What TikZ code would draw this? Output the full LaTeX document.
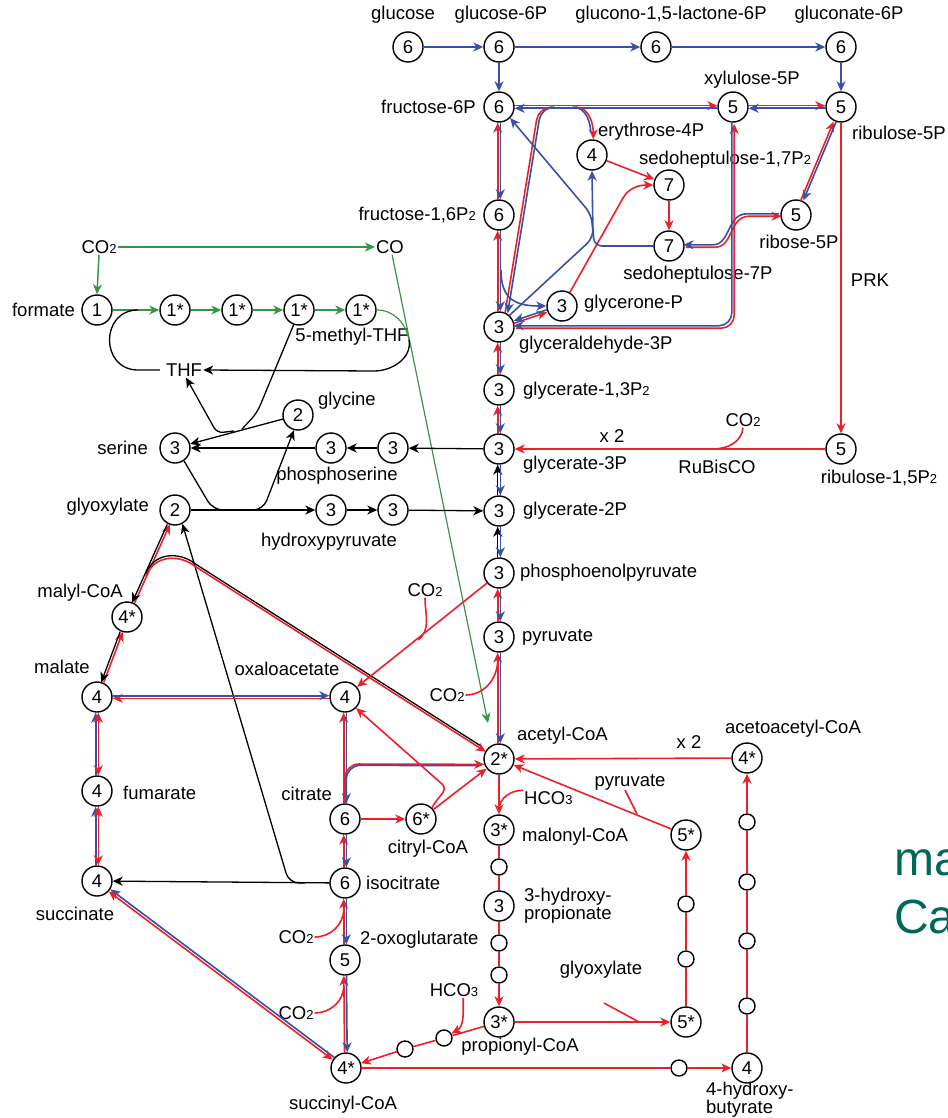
\documentclass[tikz,border=0pt]{standalone}
\usepackage{fontspec}
\setmainfont{Liberation Sans}
\usetikzlibrary{arrows.meta,positioning}
\definecolor{myred}{RGB}{236,32,40}
\definecolor{myblue}{RGB}{56,80,166}
\definecolor{mygreen}{RGB}{54,150,70}
\definecolor{myteal}{RGB}{0,104,88}
\newcommand{\sbs}[1]{{\fontsize{13}{13}\selectfont #1}}
\tikzset{
  met/.style={circle,draw,line width=1.4pt,minimum size=30pt,inner sep=0pt,fill=white,font=\fontsize{18.5}{18.5}\selectfont},
  sdot/.style={circle,draw,line width=1.4pt,minimum size=16pt,inner sep=0pt,fill=white},
  lab/.style={font=\fontsize{18.5}{19}\selectfont,inner sep=1pt},
  arr/.style={-{Stealth[length=10pt,width=9pt,inset=3pt]}},
  arr2/.style={{Stealth[length=10pt,width=9pt,inset=3pt]}-{Stealth[length=10pt,width=9pt,inset=3pt]}},
  rd/.style={draw=myred,line width=1.6pt},
  bl/.style={draw=myblue,line width=1.6pt},
  gr/.style={draw=mygreen,line width=1.5pt},
  bk/.style={draw=black,line width=1.3pt},
  lft/.style={transform canvas={xshift=-1.3pt}},
  rgt/.style={transform canvas={xshift=1.3pt}},
  upp/.style={transform canvas={yshift=1.3pt}},
  dwn/.style={transform canvas={yshift=-1.3pt}},
  ul/.style={transform canvas={shift={(-1.2pt,1.2pt)}}},
  dr/.style={transform canvas={shift={(1.2pt,-1.2pt)}}},
  offA/.style={transform canvas={shift={(0.8pt,1.1pt)}}},
  offB/.style={transform canvas={shift={(-0.8pt,-1.1pt)}}},
}
\begin{document}
\begin{tikzpicture}[x=1pt,y=-1pt]
\useasboundingbox (0,0) rectangle (947,1118);
% top row
\node[met] (glc) at (408,47) {6};
\node[met] (g6p) at (499,47) {6};
\node[met] (gl6p) at (656,47) {6};
\node[met] (gn6p) at (841,47) {6};
% pentose phosphates
\node[met] (f6p) at (499,107) {6};
\node[met] (x5p) at (733,107) {5};
\node[met] (ru5p) at (841,107) {5};
\node[met] (e4p) at (592,155) {4};
\node[met] (s17) at (669,185) {7};
\node[met] (fbp) at (499,215) {6};
\node[met] (r5p) at (796,215) {5};
\node[met] (s7p) at (669,246) {7};
\node[met] (dhap) at (562,306) {3};
\node[met] (gap) at (499,327) {3};
% trunk
\node[met] (bpg) at (499,390) {3};
\node[met] (pga) at (499,449) {3};
\node[met] (rubp) at (841,449) {5};
\node[met] (pg2) at (499,511) {3};
\node[met] (pep) at (499,573) {3};
\node[met] (pyr) at (499,637) {3};
\node[met] (acoa) at (499,759) {2*};
% 3-hydroxypropionate / 4-hydroxybutyrate
\node[met] (aac) at (747,758) {4*};
\node[met] (mcoa) at (499,830) {3*};
\node[met] (f5a) at (686,835) {5*};
\node[sdot] (d1) at (499,867) {};
\node[met] (hp3) at (499,906) {3};
\node[sdot] (d2) at (499,943) {};
\node[sdot] (d3) at (499,975) {};
\node[met] (pcoa) at (499,1022) {3*};
\node[met] (f5b) at (686,1022) {5*};
\node[sdot] (d4) at (686,904) {};
\node[sdot] (d5) at (686,959) {};
\node[sdot] (d6) at (444,1038) {};
\node[sdot] (d7) at (405,1049) {};
\node[sdot] (d8) at (679,1068) {};
\node[met] (scoa) at (346,1068) {4*};
\node[met] (hb4) at (747,1068) {4};
\node[sdot] (e1) at (747,1006) {};
\node[sdot] (e2) at (747,941) {};
\node[sdot] (e3) at (747,882) {};
\node[sdot] (e4) at (747,822) {};
% citrate cycle
\node[met] (oaa) at (345,697) {4};
\node[met] (cit) at (345,819) {6};
\node[met] (cyl) at (421,819) {6*};
\node[met] (icit) at (345,883) {6};
\node[met] (akg) at (345,960) {5};
\node[met] (mal) at (97,697) {4};
\node[met] (fum) at (97,791) {4};
\node[met] (suc) at (97,881) {4};
\node[met] (mlc) at (127,617) {4*};
% serine cycle
\node[met] (gox) at (175,510) {2};
\node[met] (ser) at (175,448) {3};
\node[met] (gly) at (298,415) {2};
\node[met] (ps1) at (331,448) {3};
\node[met] (ps2) at (393,448) {3};
\node[met] (hp1) at (331,510) {3};
\node[met] (hp2) at (393,510) {3};
% Wood-Ljungdahl
\node[met] (frm) at (97,310) {1};
\node[met] (m1) at (175,310) {1*};
\node[met] (m2) at (237,310) {1*};
\node[met] (m3) at (299,310) {1*};
\node[met] (m4) at (361,310) {1*};

% labels
\node[lab] (glcL) at (403,15) {glucose};
\node[lab] (g6pL) at (501,15) {glucose-6P};
\node[lab] (gl6pL) at (671,15) {glucono-1,5-lactone-6P};
\node[lab] (gn6pL) at (849,15) {gluconate-6P};
\node[lab,anchor=east] (f6pL) at (477,107) {fructose-6P};
\node[lab] (x5pL) at (752,80) {xylulose-5P};
\node[lab,anchor=west] (ru5pL) at (851,133) {ribulose-5P};
\node[lab,anchor=west] (e4pL) at (597,132) {erythrose-4P};
\node[lab,anchor=west] (s17L) at (638,160) {sedoheptulose-1,7P\sbs{2}};
\node[lab,anchor=east] (fbpL) at (477,215) {fructose-1,6P\sbs{2}};
\node[lab] (r5pL) at (799,242) {ribose-5P};
\node[lab] (s7pL) at (698,275) {sedoheptulose-7P};
\node[lab] (prkL) at (870,280) {PRK};
\node[lab,anchor=west] (dhapL) at (583,304) {glycerone-P};
\node[lab,anchor=west] (gapL) at (518,345) {glyceraldehyde-3P};
\node[lab,anchor=west] (bpgL) at (522,391) {glycerate-1,3P\sbs{2}};
\node[lab,anchor=west] (pgaL) at (522,465) {glycerate-3P};
\node[lab] (x2a) at (612,436) {x 2};
\node[lab] (co2r) at (743,420) {CO\sbs{2}};
\node[lab] (rbcL) at (717,467) {RuBisCO};
\node[lab] (rubpL) at (879,478) {ribulose-1,5P\sbs{2}};
\node[lab,anchor=west] (pg2L) at (522,511) {glycerate-2P};
\node[lab,anchor=west] (pepL) at (519,573) {phosphoenolpyruvate};
\node[lab,anchor=west] (pyrL) at (521,637) {pyruvate};
\node[lab,anchor=west] (acoaL) at (516,736) {acetyl-CoA};
\node[lab] (x2b) at (689,742) {x 2};
\node[lab] (aacL) at (793,729) {acetoacetyl-CoA};
\node[lab] (pyrT) at (630,782) {pyruvate};
\node[lab,anchor=west] (hco3a) at (523,798) {HCO\sbs{3}};
\node[lab,anchor=west] (mcoaL) at (521,837) {malonyl-CoA};
\node[lab,anchor=west,align=left,font=\fontsize{18.5}{14.5}\selectfont] (hprL) at (523,906) {3-hydroxy-\\propionate};
\node[lab] (gxT) at (601,970) {glyoxylate};
\node[lab] (hco3b) at (454,990) {HCO\sbs{3}};
\node[lab] (pcoaL) at (520,1047) {propionyl-CoA};
\node[lab,anchor=west,align=left,font=\fontsize{18.5}{14.5}\selectfont] (hbL) at (705,1100) {4-hydroxy-\\butyrate};
\node[lab] (scoaL) at (343,1105) {succinyl-CoA};
\node[lab] (sucL) at (75,914) {succinate};
\node[lab,anchor=west] (icitL) at (365,883) {isocitrate};
\node[lab,anchor=west] (akgL) at (359,940) {2-oxoglutarate};
\node[lab] (co2b) at (296,937) {CO\sbs{2}};
\node[lab] (co2c) at (296,1013) {CO\sbs{2}};
\node[lab,anchor=east] (citL) at (333,794) {citrate};
\node[lab] (cylL) at (428,849) {citryl-CoA};
\node[lab] (oaaL) at (287,669) {oxaloacetate};
\node[lab] (malL) at (62,667) {malate};
\node[lab,anchor=west] (fumL) at (122,793) {fumarate};
\node[lab] (mlcL) at (80,593) {malyl-CoA};
\node[lab] (co2d) at (425,590) {CO\sbs{2}};
\node[lab] (co2e) at (447,695) {CO\sbs{2}};
\node[lab,anchor=east] (goxL) at (150,507) {glyoxylate};
\node[lab] (hpL) at (329,542) {hydroxypyruvate};
\node[lab,anchor=east] (serL) at (149,448) {serine};
\node[lab] (psL) at (337,476) {phosphoserine};
\node[lab,anchor=west] (glyL) at (317,401) {glycine};
\node[lab] (thf) at (184,370) {THF};
\node[lab] (mthfL) at (352,337) {5-methyl-THF};
\node[lab,anchor=east] (frmL) at (76,310) {formate};
\node[lab] (co2a) at (99,247) {CO\sbs{2}};
\node[lab] (co) at (390,247) {CO};
\node[font=\fontsize{48}{48}\selectfont,text=myteal,anchor=base west,inner sep=0pt] (maT) at (894,875) {ma};
\node[font=\fontsize{48}{48}\selectfont,text=myteal,anchor=base west,inner sep=0pt] (caT) at (894,933) {Ca};

% glycolysis and oxidative pentose phosphate
\draw[bl,arr] (glc) -- (g6p);
\draw[bl,arr] (g6p) -- (gl6p);
\draw[bl,arr] (gl6p) -- (gn6p);
\draw[bl,arr] (gn6p) -- (ru5p);
\draw[bl,arr] (g6p) -- (f6p);
\draw[rd,arr,lft] (fbp) -- (f6p);
\draw[bl,arr,rgt] (f6p) -- (fbp);
\draw[rd,arr,lft] (gap) -- (fbp);
\draw[bl,arr,rgt] (fbp) -- (gap);
\draw[rd,arr,lft] (bpg) -- (gap);
\draw[bl,arr,rgt] (gap) -- (bpg);
\draw[rd,arr,lft] (pga) -- (bpg);
\draw[bl,arr,rgt] (bpg) -- (pga);
\draw[bk,arr,lft] (pg2) -- (pga);
\draw[bl,arr,rgt] (pga) -- (pg2);
\draw[bk,arr,lft] (pep) -- (pg2);
\draw[bl,arr,rgt] (pg2) -- (pep);
\draw[rd,arr,lft] (pyr) -- (pep);
\draw[bl,arr,rgt] (pep) -- (pyr);
\draw[rd,arr,lft] (acoa) -- (pyr);
\draw[bl,arr,rgt] (pyr) -- (acoa);

% Calvin cycle
\coordinate (tkT) at (553,107);
\coordinate (e4T) at (574,107);
\draw[rd,arr,upp] (f6p) -- (x5p);
\draw[bl,arr,dwn] (x5p) -- (f6p);
\draw[rd,lft,rounded corners=13pt] (gap.62) -- (540,107) -- (tkT);
\draw[bl,arr,rgt,rounded corners=13pt] (tkT) -- (540,107) -- (gap.62);
\draw[rd,arr,rgt] (e4T) to[out=0,in=90] (e4p.north);
\draw[bl,lft,shorten >=7pt] (e4T) to[out=0,in=90] (e4p.north);
\draw[rd,arr,upp] (x5p) -- (ru5p);
\draw[bl,arr,dwn] (ru5p) -- (x5p);
\draw[rd,arr,lft] (r5p) -- (ru5p);
\draw[bl,arr,rgt] (ru5p) -- (r5p);
\draw[rd,arr] (ru5p) -- (rubp);
\draw[rd,arr] (rubp) -- (pga);
\coordinate (rbJ) at (713,449);
\draw[rd] (co2r.south) to[out=-95,in=0] (rbJ);
\draw[rd,arr] (e4p) -- (s17);
\draw[rd,arr] (dhap.60) -- (623,198) to[out=60,in=180] (s17.west);
\draw[rd,arr] (s17) -- (s7p);
\draw[rd,arr,dr] (s7p.east) -- (714,246) .. controls (732,246) and (728,215) .. (748,215) -- (r5p.west);
\draw[bl,arr,ul] (r5p.west) -- (748,215) .. controls (728,215) and (732,246) .. (714,246) -- (s7p.east);
\draw[rd,arr,dr,rounded corners=13pt] (gap.east) -- (733,327) -- (x5p.south);
\draw[bl,arr,ul,rounded corners=13pt] (x5p.south) -- (733,327) -- (gap.east);
\draw[rd,arr,dwn] (gap) -- (dhap);
\draw[bl,arr,upp] (dhap) -- (gap);
\draw[bl,arr] (501,270) .. controls (501,300) and (516,306) .. (dhap.west);
\draw[bl,arr,rounded corners=8pt] (gap.48) -- (593,238) -- (e4p.south);
\draw[bl,rounded corners=8pt] (s7p.west) -- (594,246) -- (593,228);
\draw[bl,arr,rounded corners=8pt] (593,232) -- (591,214) -- (f6p.-45);

% Wood-Ljungdahl and serine cycle
\draw[gr,arr] (co2a.east) -- (co.west);
\draw[gr,arr] (co2a.south) -- (frm.north);
\draw[gr,arr] (frm) -- (m1);
\draw[gr,arr] (m1) -- (m2);
\draw[gr,arr] (m2) -- (m3);
\draw[gr,arr] (m3) -- (m4);
\coordinate (mJ) at (409,340);
\coordinate (coE) at (488,723);
\draw[gr,line width=1.2pt,arr] (co.-75) -- (coE);
\draw[gr,line width=1.2pt] (m4.east) to[out=0,in=101] (mJ);
\draw[bk,shorten <=5pt] (thf.west) -- (138,370) .. controls (100,370) and (100,310) .. (138,310);
\draw[bk,arr] (mJ) to[out=-80,in=0] (374,371) -- (thf.east);
\draw[bk,rounded corners=8pt] (m3.250) -- (257,413) -- (242,429);
\draw[bk,arr] (gly) -- (ser);
\draw[bk,arr,rounded corners=6pt] (234,431) -- (217,433) -- (thf.-75);
\draw[bk,arr] (pga) -- (ps2);
\draw[bk,arr] (ps2) -- (ps1);
\draw[bk,arr] (ps1) -- (ser);
\draw[bk,arr] (gox) -- (hp1);
\draw[bk,arr] (hp1) -- (hp2);
\draw[bk,arr] (hp2) -- (pg2);
\draw[bk,rounded corners=10pt] (ser.-55) -- (213,510) -- (240,510);
\draw[bk,arr,rounded corners=10pt] (236,510) -- (263,510) -- (gly.-105);
\draw[bk,arr] (icit) -- (suc);
\draw[bk,arr,rounded corners=10pt] (305,883) -- (289,883) -- (gox.-62);

% glyoxylate, malyl-CoA and citrate cycle
\draw[rd,arr,rgt] (mlc) -- (gox);
\draw[bk,arr,lft] (gox) -- (mlc);
\draw[rd,arr,rgt] (mal) -- (mlc);
\draw[bk,arr,lft] (mlc) -- (mal);
\draw[bk,upp,shorten >=7pt] (146,575) .. controls (154,553) and (180,553) .. (195,565) -- (acoa.147);
\draw[rd,arr,dwn] (146,575) .. controls (154,553) and (180,553) .. (195,565) -- (acoa.147);
\draw[rd,arr,dwn] (oaa) -- (mal);
\draw[bl,arr,upp] (mal) -- (oaa);
\draw[bl,arr,lft] (fum) -- (mal);
\draw[rd,arr2,rgt] (mal) -- (fum);
\draw[bl,arr,lft] (suc) -- (fum);
\draw[rd,arr2,rgt] (fum) -- (suc);
\draw[bl,arr,offA] (scoa) -- (suc);
\draw[rd,arr2,offB] (suc) -- (scoa);
\draw[rd,arr,lft] (cit) -- (oaa);
\draw[bl,arr,rgt] (oaa) -- (cit);
\draw[rd,arr,rounded corners=14pt] (cit.north) -- (345,764) -- (acoa.200);
\draw[bl,shorten >=7pt,transform canvas={shift={(1.3pt,-1.3pt)}},rounded corners=14pt] (cit.north) -- (345,764) -- (acoa.200);
\draw[rd,arr] (cit) -- (cyl);
\draw[rd,arr] (cyl) -- (acoa);
\draw[rd,arr] (cyl.45) to[out=70,in=-41] (442,784) -- (oaa.-45);
\draw[rd,arr,lft] (icit) -- (cit);
\draw[bl,arr,rgt] (cit) -- (icit);
\draw[rd,arr,lft] (akg) -- (icit);
\draw[bl,arr,rgt] (icit) -- (akg);
\draw[rd] (co2b.east) to[out=0,in=-90] (343.7,909);
\draw[rd,arr,lft] (scoa) -- (akg);
\draw[bl,arr,rgt] (akg) -- (scoa);
\draw[rd] (co2c.east) to[out=0,in=-90] (343.7,986);
\draw[rd,arr] (pep.-140) -- (oaa.40);
\draw[rd] (co2d.south) to[out=-90,in=37] (418,640);
\draw[rd] (co2e.east) to[out=0,in=-90] (497.7,660);

% 3-hydroxypropionate / 4-hydroxybutyrate
\draw[rd,arr] (acoa) -- (mcoa);
\draw[rd] (hco3a.north west) to[out=180,in=90] (499,810);
\draw[rd] (mcoa) -- (d1);
\draw[rd] (d1) -- (hp3);
\draw[rd] (hp3) -- (d2);
\draw[rd] (d2) -- (d3);
\draw[rd,arr] (d3) -- (pcoa);
\draw[rd,arr] (pcoa) -- (f5b);
\coordinate (gxA) at (604,1003);
\coordinate (gxB) at (639,1022);
\draw[rd] (gxA) -- (gxB);
\draw[rd] (f5b) -- (d5);
\draw[rd] (d5) -- (d4);
\draw[rd,arr] (d4) -- (f5a);
\draw[rd,arr] (f5a) -- (acoa);
\coordinate (pyA) at (625,790);
\coordinate (pyB) at (637,814);
\draw[rd] (pyA) -- (pyB);
\draw[rd] (pcoa) -- (d6);
\draw[rd] (d6) -- (d7);
\draw[rd,arr] (d7) -- (scoa);
\draw[rd,arr] (hco3b.-40) to[out=-90,in=30] (d6.30);
\draw[rd] (scoa) -- (d8);
\draw[rd,arr] (d8) -- (hb4);
\draw[rd] (hb4) -- (e1);
\draw[rd] (e1) -- (e2);
\draw[rd] (e2) -- (e3);
\draw[rd] (e3) -- (e4);
\draw[rd,arr] (e4) -- (aac);
\draw[rd,arr] (aac) -- (acoa);
\end{tikzpicture}
\end{document}
